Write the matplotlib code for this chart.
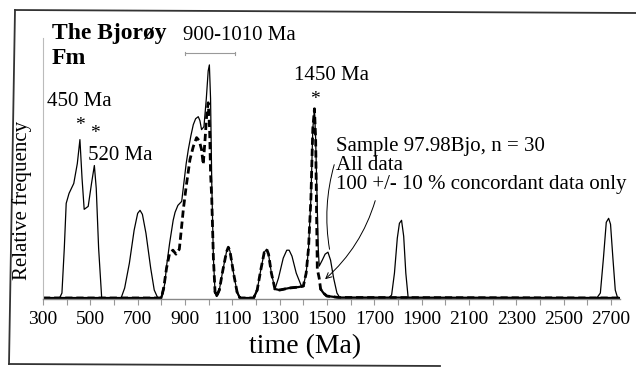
import numpy as np
import matplotlib
matplotlib.use('Agg')
import matplotlib.pyplot as plt

plt.rcParams['font.family'] = ['Liberation Serif', 'DejaVu Serif']

# Ages (Ma) and relative frequency (arbitrary units)
# All data (thin solid line)
all_age = [300, 370, 380, 390, 398, 410, 430, 445, 456, 465, 474, 491, 505, 517,
           525, 535, 548, 630, 645, 665, 685, 700, 710, 720, 735, 755, 770, 785,
           795, 805, 815, 822, 835, 850, 858, 870, 886, 895, 905, 914, 925, 935,
           945, 956, 963, 970, 980, 990, 998, 1003, 1008, 1013, 1020, 1027, 1034,
           1045, 1060, 1075, 1083, 1090, 1105, 1120, 1132, 1190, 1205, 1220, 1235,
           1245, 1253, 1265, 1280, 1295, 1315, 1330, 1340, 1352, 1370, 1390, 1400,
           1412, 1422, 1432, 1440, 1447, 1452, 1458, 1463, 1467, 1480, 1492, 1504,
           1515, 1528, 1542, 1555, 1760, 1773, 1785, 1797, 1806, 1815, 1824, 1833,
           1843, 2640, 2655, 2668, 2680, 2690, 2698, 2708, 2718, 2728, 2738]
all_freq = [0, 0, 5, 50, 95, 105, 115, 135, 159, 120, 89, 92, 115, 133,
            110, 50, 0, 0, 10, 35, 68, 85, 88, 84, 65, 30, 8, 0,
            0, 3, 15, 32, 55, 78, 86, 93, 97, 115, 135, 149, 163, 174,
            180, 182, 178, 169, 172, 200, 228, 234, 200, 116, 40, 6, 2,
            8, 28, 46, 51, 47, 25, 6, 0, 0, 8, 28, 46,
            49, 44, 25, 9, 20, 40, 48, 48, 42, 25, 13, 12,
            25, 50, 100, 170, 190, 160, 100, 50, 32, 38, 44, 46,
            38, 20, 5, 0, 0, 3, 25, 60, 75, 78, 62, 25,
            0, 0, 5, 40, 76, 80, 74, 40, 8, 0, 0]

# 100 +/- 10 % concordant data only (thick dashed line)
conc_age = [300, 800, 810, 822, 835, 849, 862, 870, 876, 885, 893, 905, 921, 935,
            949, 960, 970, 977, 985, 992, 998, 1004, 1008, 1013, 1020, 1027, 1034,
            1045, 1060, 1075, 1083, 1090, 1105, 1120, 1132, 1190, 1205, 1220, 1235,
            1245, 1253, 1265, 1280, 1300, 1340, 1380, 1400, 1412, 1422, 1432, 1440,
            1447, 1452, 1459, 1467, 1473, 1485, 1499, 1550, 2738]
conc_freq = [0, 0, 10, 30, 45, 48, 44, 47, 49, 70, 89, 112, 139, 152,
             161, 158, 149, 134, 160, 185, 196, 170, 125, 100, 40, 6, 2,
             8, 28, 46, 51, 47, 25, 6, 0, 0, 8, 28, 46,
             49, 44, 25, 9, 8, 10, 11, 12, 25, 50, 100, 170,
             190, 160, 29, 20, 9, 5, 2, 0.5, 0]

xticks = np.arange(300, 2701, 100)
xlabels = [str(v) if (v - 300) % 200 == 0 else '' for v in xticks]

W, H, DPI = 636, 368, 100
fig = plt.figure(figsize=(W / DPI, H / DPI), dpi=DPI, facecolor='white')


def px(x, y):
    # pixel position in the picture -> figure fraction
    return x / W, 1 - y / H


ax = fig.add_axes([43 / W, 1 - 299 / H, (620 - 43) / W, (299 - 38) / H])
ax.plot(all_age, all_freq, color='black', lw=0.9)
ax.plot(conc_age, conc_freq, color='black', lw=2.0, linestyle=(0, (2.6, 1.4)))
# where the concordant curve lies near the baseline the scan shows it as a bold solid line
conc_low = np.ma.masked_greater(np.array(conc_freq, dtype=float), 12)
ax.plot(conc_age, conc_low, color='black', lw=1.6)
ax.set_xlim(300, 2738)
ax.set_ylim(-1, 261)

ax.set_xticks(xticks)
ax.set_xticklabels(xlabels, fontsize=14)
ax.set_yticks([])
ax.tick_params(axis='x', length=4, width=0.8, color='#999999', pad=5)
for side in ['top', 'right']:
    ax.spines[side].set_visible(False)
ax.spines['bottom'].set_color('#888888')
ax.spines['bottom'].set_linewidth(1.0)
ax.spines['left'].set_color('#bbbbbb')
ax.spines['left'].set_linewidth(0.8)

# labels
fig.text(*px(305, 347), 'time (Ma)', fontsize=20, ha='center', va='center')
fig.text(*px(22, 200), 'Relative frequency', fontsize=15, rotation=90,
         ha='center', va='center')

fig.text(*px(52, 34), 'The Bjorøy', fontsize=17, fontweight='bold', va='center')
fig.text(*px(52, 59), 'Fm', fontsize=17, fontweight='bold', va='center')
fig.text(*px(183, 36), '900-1010 Ma', fontsize=15, va='center')
fig.lines.append(plt.Line2D([185 / W, 235 / W], [1 - 53 / H, 1 - 53 / H],
                            transform=fig.transFigure, color='#999999', lw=0.8))
for xx in (185, 235):
    fig.lines.append(plt.Line2D([xx / W, xx / W], [1 - 51.5 / H, 1 - 54.5 / H],
                                transform=fig.transFigure, color='#999999', lw=0.8))

fig.text(*px(47, 102), '450 Ma', fontsize=15, va='center')
fig.text(*px(80, 125), '*', fontsize=14, ha='center', va='center')
fig.text(*px(95, 133), '*', fontsize=14, ha='center', va='center')
fig.text(*px(88, 155), '520 Ma', fontsize=15, va='center')
fig.text(*px(294, 76), '1450 Ma', fontsize=15, va='center')
fig.text(*px(315, 99), '*', fontsize=14, ha='center', va='center')

fig.text(*px(336, 146), 'Sample 97.98Bjo, n = 30', fontsize=15, va='center')
fig.text(*px(336, 165), 'All data', fontsize=15, va='center')
fig.text(*px(336, 184), '100 +/- 10 % concordant data only', fontsize=15, va='center')

# leader lines for the legend text
fig.add_artist(matplotlib.patches.FancyArrowPatch(
    px(335, 162), px(330, 252), transform=fig.transFigure,
    arrowstyle='-', connectionstyle='arc3,rad=0.12', color='black', lw=0.7))
fig.add_artist(matplotlib.patches.FancyArrowPatch(
    px(376, 198), px(323, 281), transform=fig.transFigure,
    arrowstyle='->,head_length=4,head_width=2', connectionstyle='arc3,rad=-0.15',
    color='black', lw=0.7))

# outer frame of the scanned figure
frame_kw = dict(transform=fig.transFigure, color='#333333', lw=1.3)
fig.lines.append(plt.Line2D([15 / W, 1.0], [1 - 10 / H, 1 - 13 / H], **frame_kw))
fig.lines.append(plt.Line2D([15 / W, 9 / W], [1 - 10 / H, 1 - 364 / H], **frame_kw))
fig.lines.append(plt.Line2D([9 / W, 440 / W], [1 - 364 / H, 1 - 366 / H], **frame_kw))

plt.savefig('out.png', dpi=DPI)
